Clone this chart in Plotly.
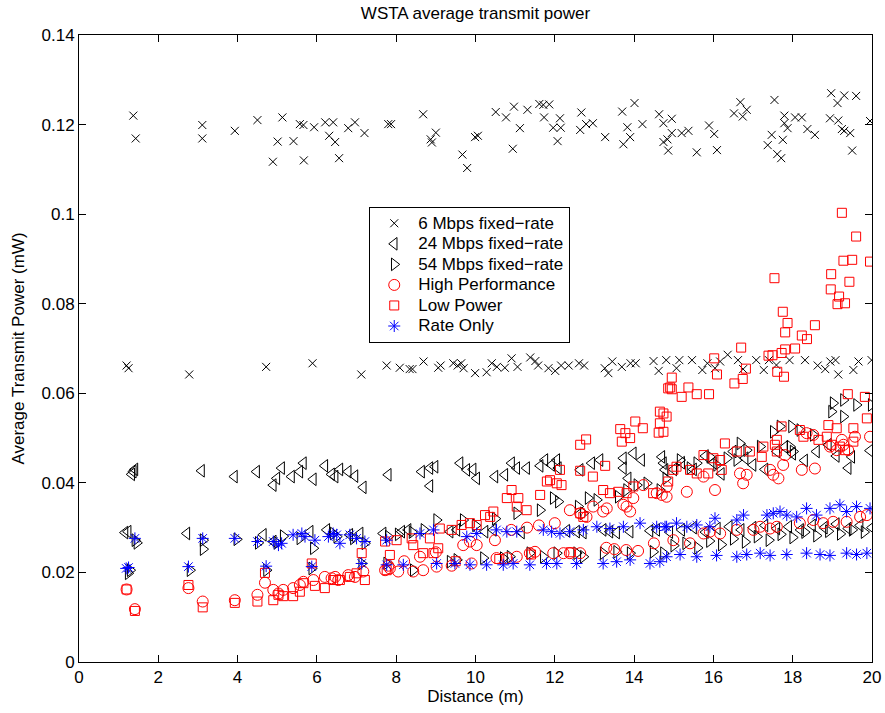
import plotly.graph_objects as go

# ---------------- data ----------------
six_x_hi = [1.37, 1.43, 3.11, 3.11, 3.93,
            4.50, 4.89, 5.01, 5.13, 5.41,
            5.57, 5.66, 5.67, 5.93, 6.21,
            6.31, 6.41, 6.46, 6.56, 6.79,
            6.96, 7.20, 7.80, 7.87, 8.68,
            8.87, 8.90, 9.00, 9.67, 9.79,
            9.99, 10.06, 10.51, 10.77, 10.94,
            10.97, 11.12, 11.31, 11.61, 11.71,
            11.73, 11.86, 11.96, 12.07, 12.13,
            12.15, 12.64, 12.67, 12.79, 12.96,
            13.27, 13.70, 13.73, 13.83, 13.90,
            14.01, 14.21, 14.63, 14.74, 14.74,
            14.84, 14.86, 14.95, 14.95, 15.20,
            15.37, 15.58, 15.89, 16.02, 16.09,
            16.52, 16.68, 16.74, 16.84, 17.37,
            17.47, 17.54, 17.61, 17.71, 17.75,
            17.79, 17.79, 17.87, 18.06, 18.23,
            18.37, 18.56, 18.94, 18.97, 19.13,
            19.15, 19.24, 19.30, 19.30, 19.45,
            19.50, 19.60, 19.95]
six_y_hi = [0.1220, 0.1169, 0.1199, 0.1169, 0.1186,
            0.1210, 0.1117, 0.1162, 0.1216, 0.1163,
            0.1201, 0.1199, 0.1120, 0.1194, 0.1205,
            0.1175, 0.1205, 0.1161, 0.1125, 0.1192,
            0.1205, 0.1181, 0.1201, 0.1201, 0.1223,
            0.1167, 0.1160, 0.1182, 0.1133, 0.1103,
            0.1172, 0.1175, 0.1228, 0.1216, 0.1146,
            0.1240, 0.1192, 0.1233, 0.1246, 0.1244,
            0.1216, 0.1245, 0.1193, 0.1163, 0.1214,
            0.1193, 0.1188, 0.1227, 0.1201, 0.1203,
            0.1172, 0.1229, 0.1156, 0.1194, 0.1172,
            0.1248, 0.1201, 0.1223, 0.1203, 0.1161,
            0.1167, 0.1142, 0.1213, 0.1181, 0.1181,
            0.1186, 0.1138, 0.1198, 0.1179, 0.1143,
            0.1225, 0.1250, 0.1218, 0.1233, 0.1154,
            0.1177, 0.1255, 0.1134, 0.1125, 0.1166,
            0.1220, 0.1203, 0.1192, 0.1216, 0.1216,
            0.1190, 0.1177, 0.1214, 0.1270, 0.1248,
            0.1209, 0.1190, 0.1265, 0.1186, 0.1181,
            0.1142, 0.1264, 0.1208]

six_x_lo = [1.20, 1.25, 2.78, 4.72, 5.89,
            7.12, 7.76, 8.09, 8.34, 8.41,
            8.69, 9.06, 9.12, 9.44, 9.55,
            9.64, 9.70, 9.99, 10.28, 10.41,
            10.54, 10.74, 10.91, 11.06, 11.38,
            11.51, 11.58, 11.84, 12.01, 12.16,
            12.35, 12.61, 12.74, 13.26, 13.35,
            13.45, 13.69, 13.91, 14.04, 14.49,
            14.62, 14.81, 15.07, 15.14, 15.46,
            15.72, 15.85, 16.04, 16.17, 16.36,
            16.62, 16.75, 17.08, 17.27, 17.40,
            17.59, 17.92, 18.31, 18.63, 18.82,
            18.95, 19.08, 19.15, 19.53, 19.66,
            19.99]
six_y_lo = [0.0662, 0.0656, 0.0642, 0.0659, 0.0667,
            0.0642, 0.0662, 0.0657, 0.0654, 0.0654,
            0.0671, 0.0657, 0.0662, 0.0667, 0.0662,
            0.0667, 0.0656, 0.0645, 0.0647, 0.0667,
            0.0659, 0.0657, 0.0678, 0.0659, 0.0680,
            0.0672, 0.0662, 0.0656, 0.0650, 0.0662,
            0.0662, 0.0667, 0.0662, 0.0656, 0.0645,
            0.0671, 0.0659, 0.0667, 0.0667, 0.0672,
            0.0650, 0.0674, 0.0656, 0.0674, 0.0674,
            0.0652, 0.0667, 0.0656, 0.0671, 0.0686,
            0.0674, 0.0654, 0.0674, 0.0652, 0.0674,
            0.0663, 0.0674, 0.0674, 0.0662, 0.0654,
            0.0671, 0.0674, 0.0642, 0.0652, 0.0671,
            0.0674]

m24_x_hi = [1.33, 1.37, 1.41, 3.09, 3.92,
            4.48, 4.90, 4.99, 5.11, 5.36,
            5.57, 5.66, 5.91, 6.20, 6.37,
            6.46, 6.58, 6.79, 6.96, 7.17,
            7.80, 8.64, 8.85, 8.98, 8.85,
            9.61, 9.78, 9.94, 10.03, 10.49,
            10.74, 10.91, 11.04, 11.29, 11.63,
            11.75, 11.92, 12.05, 12.09, 12.64,
            12.93, 13.14, 13.73, 13.98, 14.19,
            13.73, 13.85, 14.70, 14.74, 14.78,
            15.00, 15.20, 15.50, 15.80, 16.00,
            16.20, 16.50, 16.80, 17.00, 17.30,
            17.60, 17.80, 18.00, 18.30, 18.60,
            18.90, 19.10, 19.40, 19.49, 19.95]
m24_y_hi = [0.0419, 0.0425, 0.0430, 0.0427, 0.0414,
            0.0425, 0.0395, 0.0410, 0.0433, 0.0414,
            0.0425, 0.0444, 0.0408, 0.0438, 0.0419,
            0.0414, 0.0430, 0.0425, 0.0415, 0.0390,
            0.0418, 0.0425, 0.0433, 0.0436, 0.0393,
            0.0444, 0.0429, 0.0430, 0.0410, 0.0414,
            0.0418, 0.0444, 0.0433, 0.0433, 0.0438,
            0.0451, 0.0440, 0.0451, 0.0433, 0.0429,
            0.0444, 0.0451, 0.0455, 0.0466, 0.0451,
            0.0433, 0.0410, 0.0458, 0.0444, 0.0429,
            0.0430, 0.0445, 0.0430, 0.0460, 0.0445,
            0.0420, 0.0470, 0.0455, 0.0440, 0.0430,
            0.0470, 0.0480, 0.0465, 0.0450, 0.0470,
            0.0485, 0.0460, 0.0433, 0.0458, 0.0472]

m24_x_lo = [1.16, 1.24, 2.72, 4.65, 4.90,
            5.83, 6.25, 6.83, 7.09, 7.67,
            8.14, 8.30, 9.36, 9.53, 10.24,
            10.45, 11.16, 12.30, 12.55, 12.72,
            13.22, 13.39, 13.56, 13.90, 14.40,
            14.57, 14.90, 15.20, 15.50, 15.80,
            16.10, 16.40, 16.70, 17.00, 17.30,
            17.60, 17.90, 18.20, 18.50, 18.80,
            19.10, 19.40, 19.70, 20.00]
m24_y_lo = [0.0289, 0.0291, 0.0287, 0.0284, 0.0269,
            0.0291, 0.0295, 0.0284, 0.0287, 0.0287,
            0.0291, 0.0295, 0.0291, 0.0295, 0.0291,
            0.0295, 0.0289, 0.0293, 0.0291, 0.0289,
            0.0295, 0.0291, 0.0289, 0.0291, 0.0293,
            0.0295, 0.0290, 0.0295, 0.0300, 0.0290,
            0.0298, 0.0302, 0.0295, 0.0300, 0.0305,
            0.0298, 0.0302, 0.0295, 0.0305, 0.0300,
            0.0308, 0.0298, 0.0305, 0.0300]

m54_x_hi = [1.41, 1.46, 3.13, 3.13, 3.98,
            4.52, 4.99, 5.15, 5.57, 5.91,
            6.41, 6.50, 6.92, 7.21, 7.80,
            8.05, 8.40, 8.70, 9.02, 9.69,
            10.00, 10.50, 11.04, 11.63, 11.96,
            12.09, 12.59, 12.72, 12.84, 13.06,
            13.60, 13.81, 14.07, 14.32, 14.65,
            14.80, 15.16, 15.41, 15.58, 15.91,
            16.08, 16.34, 16.59, 16.67, 16.84,
            17.18, 17.51, 17.68, 17.93, 17.97,
            18.01, 18.18, 18.52, 18.98, 19.02,
            19.28, 19.28, 19.61, 19.98]
m54_y_hi = [0.0272, 0.0266, 0.0272, 0.0252, 0.0274,
            0.0266, 0.0266, 0.0281, 0.0276, 0.0254,
            0.0287, 0.0280, 0.0276, 0.0265, 0.0280,
            0.0285, 0.0290, 0.0295, 0.0317, 0.0317,
            0.0305, 0.0320, 0.0332, 0.0339, 0.0366,
            0.0358, 0.0347, 0.0332, 0.0366, 0.0362,
            0.0369, 0.0384, 0.0395, 0.0399, 0.0384,
            0.0410, 0.0451, 0.0433, 0.0444, 0.0458,
            0.0440, 0.0455, 0.0451, 0.0488, 0.0473,
            0.0481, 0.0514, 0.0526, 0.0481, 0.0526,
            0.0470, 0.0518, 0.0507, 0.0559, 0.0578,
            0.0548, 0.0585, 0.0574, 0.0574]

m54_x_lo = [1.24, 1.29, 2.80, 4.73, 5.87,
            7.13, 7.76, 8.43, 9.36, 9.53,
            10.20, 10.70, 10.87, 11.37, 11.71,
            12.05, 12.55, 12.72, 13.22, 13.56,
            13.90, 14.48, 14.74, 15.00, 15.30,
            15.60, 15.90, 16.20, 16.50, 16.80,
            17.10, 17.40, 17.70, 18.00, 18.30,
            18.60, 18.90, 19.20, 19.50, 19.80]
m54_y_lo = [0.0198, 0.0205, 0.0205, 0.0205, 0.0209,
            0.0220, 0.0220, 0.0205, 0.0224, 0.0228,
            0.0232, 0.0232, 0.0235, 0.0243, 0.0235,
            0.0243, 0.0243, 0.0235, 0.0243, 0.0246,
            0.0243, 0.0246, 0.0243, 0.0260, 0.0265,
            0.0255, 0.0270, 0.0262, 0.0275, 0.0268,
            0.0280, 0.0272, 0.0285, 0.0278, 0.0290,
            0.0282, 0.0292, 0.0286, 0.0295, 0.0290]

hp_x_hi = [1.20, 2.76, 4.69, 4.90, 5.03,
           5.15, 5.40, 5.57, 5.66, 5.91,
           6.20, 6.37, 6.46, 6.54, 6.79,
           6.96, 7.17, 7.80, 8.20, 8.60,
           9.00, 9.69, 9.86, 10.03, 10.49,
           10.90, 11.30, 11.60, 12.00, 12.38,
           12.64, 12.80, 12.97, 13.22, 13.31,
           13.73, 13.81, 13.90, 13.98, 14.23,
           14.57, 14.70, 14.82, 14.82, 15.33,
           15.75, 16.04, 16.67, 16.75, 16.84,
           17.43, 17.51, 17.64, 17.76, 17.81,
           18.23, 18.35, 18.52, 18.56, 18.94,
           19.11, 19.24, 19.28, 19.40, 19.57,
           19.95]
hp_y_hi = [0.0162, 0.0165, 0.0177, 0.0161, 0.0153,
           0.0161, 0.0165, 0.0172, 0.0179, 0.0183,
           0.0190, 0.0187, 0.0190, 0.0183, 0.0194,
           0.0190, 0.0202, 0.0215, 0.0225, 0.0235,
           0.0245, 0.0261, 0.0269, 0.0261, 0.0272,
           0.0295, 0.0300, 0.0305, 0.0310, 0.0339,
           0.0332, 0.0324, 0.0347, 0.0336, 0.0343,
           0.0351, 0.0347, 0.0336, 0.0366, 0.0395,
           0.0377, 0.0373, 0.0391, 0.0369, 0.0380,
           0.0414, 0.0384, 0.0421, 0.0399, 0.0418,
           0.0429, 0.0418, 0.0410, 0.0440, 0.0462,
           0.0429, 0.0511, 0.0507, 0.0432, 0.0481,
           0.0473, 0.0496, 0.0485, 0.0473, 0.0503,
           0.0503]

hp_x_lo = [1.41, 3.12, 3.93, 4.50, 7.72,
           7.84, 8.05, 8.43, 8.68, 9.02,
           9.40, 9.90, 10.53, 10.79, 11.04,
           11.37, 11.50, 11.96, 12.22, 12.38,
           12.64, 13.30, 13.50, 13.80, 14.10,
           14.50, 14.99, 15.41, 15.75, 15.91,
           16.17, 16.59, 17.01, 17.18, 17.43,
           17.60, 18.18, 18.52, 18.77, 19.02,
           19.36, 19.70, 19.87]
hp_y_lo = [0.0118, 0.0135, 0.0138, 0.0150, 0.0205,
           0.0209, 0.0202, 0.0202, 0.0205, 0.0213,
           0.0215, 0.0220, 0.0232, 0.0232, 0.0235,
           0.0243, 0.0246, 0.0243, 0.0243, 0.0243,
           0.0243, 0.0255, 0.0252, 0.0250, 0.0248,
           0.0265, 0.0272, 0.0265, 0.0287, 0.0291,
           0.0287, 0.0295, 0.0295, 0.0302, 0.0298,
           0.0302, 0.0310, 0.0317, 0.0310, 0.0313,
           0.0313, 0.0324, 0.0328]

lp_x_hi = [1.20, 2.76, 4.69, 5.66, 5.87,
           5.95, 6.41, 6.58, 6.83, 7.00,
           7.13, 7.21, 7.72, 8.01, 8.39,
           8.43, 8.85, 9.10, 9.40, 9.65,
           9.86, 10.03, 10.24, 10.37, 10.45,
           10.79, 10.91, 11.04, 11.08, 11.29,
           11.63, 11.80, 11.88, 12.05, 12.13,
           12.17, 12.64, 12.64, 12.79, 12.96,
           13.27, 13.65, 13.69, 13.78, 13.90,
           14.03, 14.22, 14.62, 14.65, 14.65,
           14.74, 14.74, 14.82, 14.86, 14.91,
           14.95, 14.95, 15.20, 15.37, 15.58,
           15.89, 16.02, 16.09, 16.53, 16.70,
           16.74, 16.82, 17.39, 17.49, 17.54,
           17.61, 17.72, 17.75, 17.78, 17.81,
           17.81, 17.87, 18.06, 18.23, 18.36,
           18.56, 18.96, 18.97, 19.13, 19.17,
           19.24, 19.28, 19.32, 19.39, 19.43,
           19.50, 19.60, 19.82, 19.95]
lp_y_hi = [0.0162, 0.0172, 0.0199, 0.0176, 0.0220,
           0.0170, 0.0183, 0.0183, 0.0190, 0.0198,
           0.0243, 0.0183, 0.0269, 0.0272, 0.0276,
           0.0261, 0.0276, 0.0298, 0.0295, 0.0306,
           0.0310, 0.0306, 0.0328, 0.0324, 0.0336,
           0.0366, 0.0384, 0.0347, 0.0366, 0.0339,
           0.0373, 0.0403, 0.0406, 0.0399, 0.0429,
           0.0395, 0.0485, 0.0427, 0.0497, 0.0414,
           0.0438, 0.0520, 0.0492, 0.0511, 0.0500,
           0.0537, 0.0522, 0.0512, 0.0559, 0.0533,
           0.0555, 0.0514, 0.0548, 0.0611, 0.0613,
           0.0635, 0.0609, 0.0592, 0.0613, 0.0598,
           0.0598, 0.0678, 0.0642, 0.0622, 0.0702,
           0.0632, 0.0655, 0.0684, 0.0685, 0.0857,
           0.0648, 0.0690, 0.0782, 0.0637, 0.0736,
           0.0698, 0.0757, 0.0700, 0.0729, 0.0721,
           0.0752, 0.0832, 0.0866, 0.0799, 0.0816,
           0.1003, 0.0896, 0.0801, 0.0598, 0.0849,
           0.0898, 0.0950, 0.0592, 0.0894]

lp_x_mid = [12.64, 12.72, 13.22, 13.39, 13.60,
            13.81, 13.98, 14.48, 14.86, 14.99,
            15.07, 15.41, 15.58, 15.75, 15.87,
            16.00, 16.17, 16.21, 16.29, 16.59,
            16.92, 17.22, 17.26, 17.55, 17.60,
            17.60, 17.72, 18.18, 18.27, 18.65,
            18.86, 18.90, 18.98, 19.11, 19.19,
            19.32, 19.53, 19.53, 19.87]
lp_y_mid = [0.0332, 0.0324, 0.0384, 0.0377, 0.0380,
            0.0377, 0.0392, 0.0377, 0.0403, 0.0429,
            0.0436, 0.0429, 0.0421, 0.0462, 0.0421,
            0.0455, 0.0451, 0.0429, 0.0488, 0.0470,
            0.0470, 0.0458, 0.0481, 0.0485, 0.0470,
            0.0496, 0.0526, 0.0518, 0.0503, 0.0496,
            0.0503, 0.0529, 0.0485, 0.0522, 0.0481,
            0.0473, 0.0522, 0.0492, 0.0544]

lp_x_lo = [1.41, 3.12, 3.93, 4.50, 4.90,
           5.03, 5.15, 5.40, 5.57, 6.20,
           7.76, 7.84, 8.68, 8.94, 9.06,
           9.50, 10.60, 11.40, 12.40]
lp_y_lo = [0.0114, 0.0122, 0.0132, 0.0135, 0.0138,
           0.0150, 0.0147, 0.0147, 0.0157, 0.0165,
           0.0205, 0.0239, 0.0243, 0.0243, 0.0254,
           0.0225, 0.0230, 0.0240, 0.0245]

ro_x_hi = [1.41, 3.12, 3.93, 4.50, 4.90,
           5.03, 5.11, 5.40, 5.62, 5.70,
           5.95, 6.29, 6.41, 6.50, 6.58,
           6.83, 7.00, 7.21, 7.76, 8.60,
           8.94, 9.78, 10.03, 10.53, 10.79,
           11.04, 11.71, 11.92, 12.13, 12.38,
           12.72, 13.06, 13.39, 13.73, 14.15,
           14.57, 14.78, 14.82, 15.07, 15.33,
           15.58, 15.91, 16.04, 16.59, 16.76,
           17.35, 17.51, 17.68, 17.85, 18.10,
           18.35, 18.60, 18.94, 19.19, 19.36,
           19.61, 19.95]
ro_y_hi = [0.0276, 0.0276, 0.0276, 0.0269, 0.0269,
           0.0261, 0.0265, 0.0284, 0.0287, 0.0280,
           0.0272, 0.0280, 0.0287, 0.0284, 0.0265,
           0.0284, 0.0276, 0.0269, 0.0272, 0.0287,
           0.0295, 0.0280, 0.0287, 0.0295, 0.0291,
           0.0291, 0.0295, 0.0291, 0.0287, 0.0291,
           0.0295, 0.0302, 0.0298, 0.0302, 0.0310,
           0.0302, 0.0302, 0.0302, 0.0310, 0.0302,
           0.0306, 0.0302, 0.0321, 0.0317, 0.0328,
           0.0328, 0.0332, 0.0336, 0.0328, 0.0324,
           0.0343, 0.0328, 0.0343, 0.0351, 0.0336,
           0.0347, 0.0343]

ro_x_lo = [1.19, 1.25, 2.76, 4.72, 5.87,
           7.13, 7.76, 8.18, 9.02, 9.48,
           9.86, 10.28, 10.70, 10.95, 11.37,
           11.79, 12.05, 12.55, 13.22, 13.56,
           13.90, 14.40, 14.65, 14.82, 15.16,
           15.58, 16.08, 16.59, 16.84, 17.18,
           17.43, 17.85, 18.35, 18.69, 18.94,
           19.36, 19.61, 19.87]
ro_y_lo = [0.0209, 0.0211, 0.0213, 0.0214, 0.0213,
           0.0220, 0.0217, 0.0217, 0.0220, 0.0220,
           0.0217, 0.0217, 0.0217, 0.0220, 0.0217,
           0.0220, 0.0220, 0.0220, 0.0220, 0.0224,
           0.0228, 0.0220, 0.0224, 0.0235, 0.0240,
           0.0235, 0.0238, 0.0235, 0.0240, 0.0243,
           0.0238, 0.0240, 0.0243, 0.0240, 0.0238,
           0.0243, 0.0240, 0.0243]

x_tick_vals = [0, 2, 4, 6, 8, 10, 12, 14, 16, 18, 20]
y_tick_vals = [0, 0.02, 0.04, 0.06, 0.08, 0.1, 0.12, 0.14]
y_tick_text = ["0", "0.02", "0.04", "0.06", "0.08", "0.1", "0.12", "0.14"]

series_names = ["6 Mbps fixed\u2212rate", "24 Mbps fixed\u2212rate",
                "54 Mbps fixed\u2212rate", "High Performance", "Low Power",
                "Rate Only"]

series = [
    (series_names[0], six_x_hi + six_x_lo, six_y_hi + six_y_lo,
     "x-thin-open", "black", 8),
    (series_names[1], m24_x_hi + m24_x_lo, m24_y_hi + m24_y_lo,
     "triangle-left-open", "black", 11),
    (series_names[2], m54_x_hi + m54_x_lo, m54_y_hi + m54_y_lo,
     "triangle-right-open", "black", 11),
    (series_names[3], hp_x_hi + hp_x_lo, hp_y_hi + hp_y_lo,
     "circle-open", "red", 11),
    (series_names[4], lp_x_hi + lp_x_mid + lp_x_lo, lp_y_hi + lp_y_mid + lp_y_lo,
     "square-open", "red", 9),
    (series_names[5], ro_x_hi + ro_x_lo, ro_y_hi + ro_y_lo,
     "asterisk-open", "blue", 10),
]

FONT = "Liberation Sans, Arial, Helvetica, sans-serif"
FS = 17

fig = go.Figure()
for name, xs, ys, sym, col, size in series:
    fig.add_trace(go.Scatter(
        x=xs, y=ys, mode="markers",
        # larger glyphs inside a compact legend row
        name='<span style="font-size:17px">' + name + "</span>",
        marker=dict(symbol=sym, size=size, color=col,
                    line=dict(color=col, width=1)),
    ))

fig.update_layout(
    width=885, height=713,
    margin=dict(l=79, r=13, t=35, b=51),
    paper_bgcolor="white", plot_bgcolor="white",
    font=dict(family=FONT, size=FS, color="black"),
    title=dict(text="WSTA average transmit power", x=0.5, xanchor="center",
               xref="paper",
               y=1 - 13 / 713, yanchor="middle", yref="container",
               font=dict(family=FONT, size=FS, color="black")),
    showlegend=True,
    legend=dict(x=0.366, y=0.7257, xanchor="left", yanchor="top",
                bgcolor="white", bordercolor="black", borderwidth=1,
                font=dict(family=FONT, size=13.5, color="black"),
                tracegroupgap=0, itemsizing="trace", itemwidth=38),
    xaxis=dict(range=[0, 20], tickvals=x_tick_vals, ticks="inside", ticklen=7,
               tickcolor="black", showline=True, linecolor="black", linewidth=1,
               mirror="ticks", showgrid=False, zeroline=False, automargin=False,
               tickfont=dict(family=FONT, size=FS),
               title=dict(text="Distance (m)", standoff=1,
                          font=dict(family=FONT, size=FS))),
    yaxis=dict(range=[0, 0.14], tickvals=y_tick_vals, ticktext=y_tick_text,
               ticks="inside", ticklen=7, tickcolor="black", showline=True,
               linecolor="black", linewidth=1, mirror="ticks", showgrid=False,
               zeroline=False, automargin=False,
               tickfont=dict(family=FONT, size=FS),
               title=dict(text="Average Transmit Power (mW)", standoff=12,
                          font=dict(family=FONT, size=FS))),
)

fig.write_html("out.html")
